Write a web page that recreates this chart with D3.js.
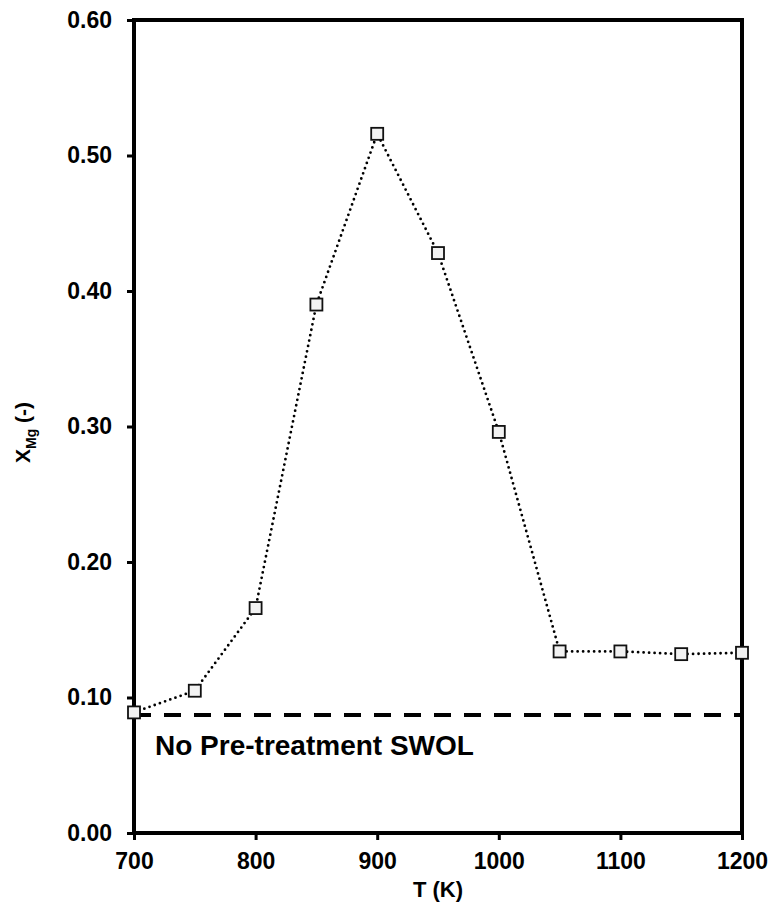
<!DOCTYPE html>
<html lang="en">
<head>
    <meta charset="UTF-8">
    <title>X_Mg vs T</title>
    <script src="https://d3js.org/d3.v7.min.js"></script>
    <style>
        body {
            margin: 0;
            background: white;
        }
        svg text {
            font-family: "Liberation Sans", Arial, sans-serif;
            font-weight: bold;
            fill: black;
        }
        .tick text {
            font-size: 23px;
        }
        .axis path {
            display: none;
        }
        .axis line {
            stroke: black;
            stroke-width: 3px;
        }
    </style>
</head>
<body>
    <script>
        // Data
        const temps = [700, 750, 800, 850, 900, 950, 1000, 1050, 1100, 1150, 1200];
        const xMg = [0.089, 0.105, 0.166, 0.390, 0.516, 0.428, 0.296, 0.134, 0.134, 0.132, 0.133];
        const baseline = 0.087;
        const baselineLabel = "No Pre-treatment SWOL";
        const xTicks = [700, 800, 900, 1000, 1100, 1200];
        const yTicks = [0.0, 0.1, 0.2, 0.3, 0.4, 0.5, 0.6];

        const data = temps.map((t, i) => ({t: t, v: xMg[i]}));

        // Set dimensions and margins
        const margin = {top: 20, right: 32, bottom: 70, left: 134};
        const width = 774 - margin.left - margin.right;
        const height = 903 - margin.top - margin.bottom;

        const svg = d3.select("body")
            .append("svg")
            .attr("width", width + margin.left + margin.right)
            .attr("height", height + margin.top + margin.bottom)
            .append("g")
            .attr("transform", `translate(${margin.left},${margin.top})`);

        const x = d3.scaleLinear()
            .domain([700, 1200])
            .range([0, width]);

        const y = d3.scaleLinear()
            .domain([0, 0.6])
            .range([height, 0]);

        // X axis
        svg.append("g")
            .attr("class", "axis")
            .attr("transform", `translate(0, ${height})`)
            .call(d3.axisBottom(x).tickValues(xTicks).tickSize(7).tickPadding(13).tickFormat(d3.format("d")));

        // Y axis
        svg.append("g")
            .attr("class", "axis")
            .call(d3.axisLeft(y).tickValues(yTicks).tickSize(7).tickPadding(15).tickFormat(d3.format(".2f")));

        // Frame
        svg.append("rect")
            .attr("x", 0)
            .attr("y", 0)
            .attr("width", width)
            .attr("height", height)
            .attr("fill", "none")
            .attr("stroke", "black")
            .attr("stroke-width", 4);

        // Baseline (no pre-treatment)
        svg.append("line")
            .attr("x1", x(700))
            .attr("x2", x(1200))
            .attr("y1", y(baseline))
            .attr("y2", y(baseline))
            .attr("stroke", "black")
            .attr("stroke-width", 4)
            .attr("stroke-dasharray", "17,13");

        svg.append("text")
            .attr("x", x(700) + 21)
            .attr("y", y(baseline) + 40)
            .style("font-size", "28px")
            .text(baselineLabel);

        // Dotted line through points
        const line = d3.line()
            .x(d => x(d.t))
            .y(d => y(d.v));

        svg.append("path")
            .datum(data)
            .attr("d", line)
            .attr("fill", "none")
            .attr("stroke", "black")
            .attr("stroke-width", 2.8)
            .attr("stroke-linecap", "round")
            .attr("stroke-dasharray", "0,5.5");

        // Square markers
        svg.selectAll("myRect")
            .data(data)
            .enter()
            .append("rect")
            .attr("x", d => x(d.t) - 6)
            .attr("y", d => y(d.v) - 6)
            .attr("width", 12)
            .attr("height", 12)
            .attr("fill", "#f2f2f2")
            .attr("stroke", "#111")
            .attr("stroke-width", 1.8);

        // Axis titles
        svg.append("text")
            .attr("x", width / 2)
            .attr("y", height + 64)
            .attr("text-anchor", "middle")
            .style("font-size", "22px")
            .text("T (K)");

        const yTitle = svg.append("text")
            .attr("transform", `translate(${-104}, ${height / 2 + 6}) rotate(-90)`)
            .attr("text-anchor", "middle")
            .style("font-size", "21px");
        yTitle.append("tspan").text("X");
        yTitle.append("tspan").attr("dy", 6).style("font-size", "14px").text("Mg");
        yTitle.append("tspan").attr("dy", -6).text(" (-)");
    </script>
</body>
</html>
